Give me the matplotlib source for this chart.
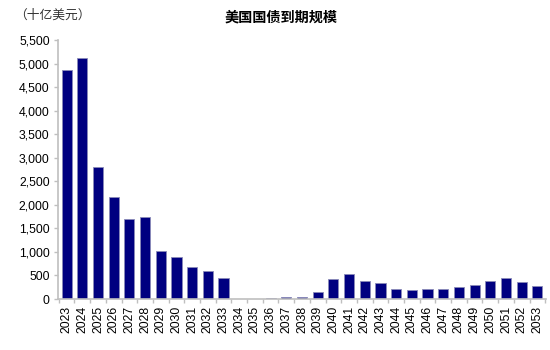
import matplotlib
matplotlib.use("Agg")
import matplotlib.pyplot as plt
from matplotlib.ticker import FuncFormatter, FixedLocator
import numpy as np

plt.rcParams['font.family'] = ['Liberation Sans', 'Noto Sans CJK SC', 'DejaVu Sans']

years = [str(y) for y in range(2023, 2054)]
maturities = [4860, 5110, 2810, 2170, 1690, 1750, 1010, 900, 675, 605, 455,
              0, 0, 25, 35, 50, 155, 415, 530, 390, 340, 205, 200, 205, 220,
              255, 300, 390, 455, 360, 275]
title = "美国国债到期规模"
unit = "（十亿美元）"

fig = plt.figure(figsize=(5.5, 3.5), dpi=100)
ax = fig.add_axes([58 / 550, 1 - 299 / 350, (546 - 58) / 550, (299 - 40) / 350])

x = np.arange(len(years))
ax.bar(x, maturities, width=0.65, color='#000080', edgecolor='#8a8ab8', linewidth=0.6)

ax.set_xlim(-0.55, len(years) - 0.45)
ax.set_ylim(0, 5500)
ax.set_yticks(np.arange(0, 5501, 500))
ax.yaxis.set_major_formatter(FuncFormatter(lambda v, p: f"{int(v):,}"))

ax.set_xticks(x)
ax.set_xticklabels(years, rotation=90, fontsize=8.8)
ax.xaxis.set_minor_locator(FixedLocator(np.arange(-0.5, len(years), 1.0)))
ax.tick_params(axis='x', which='major', length=0, pad=5)
ax.tick_params(axis='x', which='minor', length=3, color='#bfbfbf', width=1)
ax.tick_params(axis='y', length=3, color='#bfbfbf', width=1, labelsize=8.8, pad=3)

for side in ('top', 'right'):
    ax.spines[side].set_visible(False)
for side in ('left', 'bottom'):
    ax.spines[side].set_color('#bfbfbf')
    ax.spines[side].set_linewidth(1.2)

fig.text(281 / 550, 1 - 18 / 350, title, ha='center', va='center', fontsize=10.2,
         fontweight='bold', family=['Noto Sans CJK SC', 'DejaVu Sans'])
fig.text(14 / 550, 1 - 15 / 350, unit, ha='left', va='center', fontsize=9.2,
         family=['Noto Sans CJK SC', 'DejaVu Sans'], color='#333333')

fig.savefig("out.png", dpi=100)
